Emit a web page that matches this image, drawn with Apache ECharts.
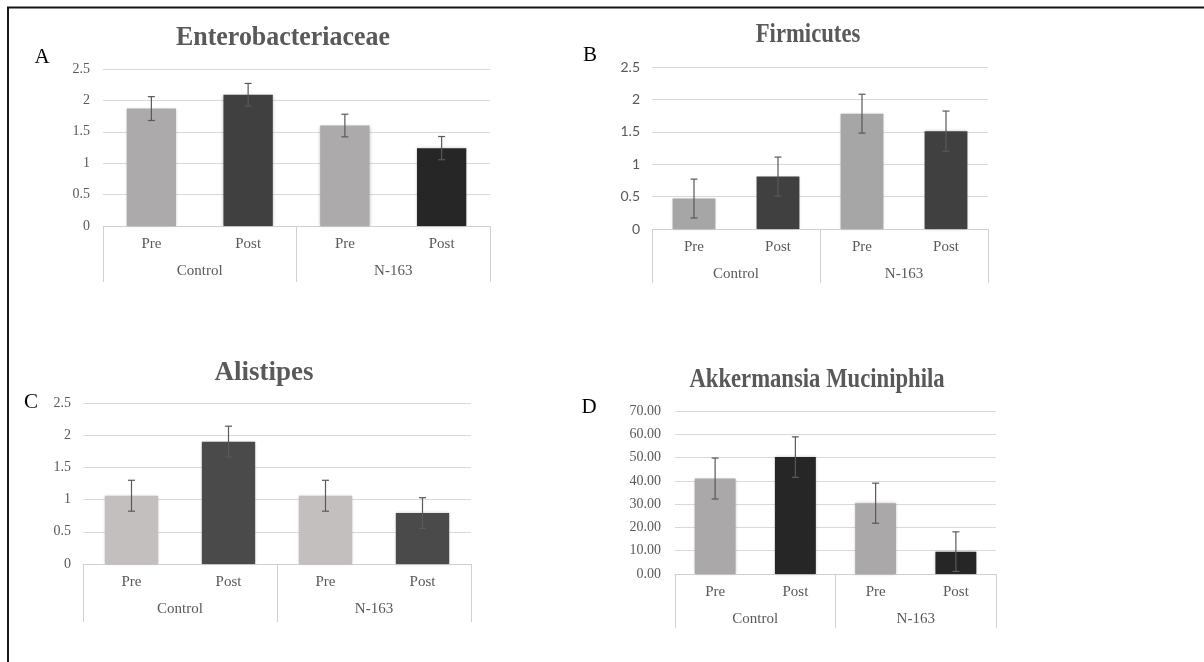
<!DOCTYPE html>
<html>
<head>
<meta charset="utf-8">
<script src="https://cdn.jsdelivr.net/npm/echarts@6/dist/echarts.min.js"></script>
<style>
html,body{margin:0;padding:0;background:#fff;}
#c{width:1204px;height:662px;}
</style>
</head>
<body>
<div id="c"></div>
<script>
// ---- data ----
const categories = ['Pre', 'Post', 'Pre', 'Post'];
const groups = ['Control', 'N-163'];

const entTitle = 'Enterobacteriaceae';
const entMean = [1.87, 2.09, 1.60, 1.24];
const entErr = [0.19, 0.18, 0.18, 0.185];

const firTitle = 'Firmicutes';
const firMean = [0.47, 0.81, 1.78, 1.51];
const firErr = [0.30, 0.30, 0.30, 0.31];

const aliTitle = 'Alistipes';
const aliMean = [1.06, 1.90, 1.06, 0.79];
const aliErr = [0.24, 0.24, 0.24, 0.24];

const akkTitle = 'Akkermansia Muciniphila';
const akkMean = [41.0, 50.2, 30.4, 9.6];
const akkErr = [8.8, 8.7, 8.6, 8.5];

const ratioTicks = [0, 0.5, 1, 1.5, 2, 2.5];
const akkTicks = [0, 10, 20, 30, 40, 50, 60, 70];

// ---- layout / style ----
const SERIF = '"Liberation Serif", "DejaVu Serif", serif';
const panels = [
  {title: entTitle, letter: 'A', mean: entMean, err: entErr, ticks: ratioTicks,
   grid: {left: 103, top: 69, width: 387, height: 157}, tickLen: 56, barWidth: '51%',
   colors: ['#acaaaa', '#404040', '#acaaaa', '#262626'],
   titlePos: [283, 38], titleScale: 0.96, letterPos: [42, 57], yFont: SERIF, yMargin: 13, dec: 0, xFont: 15},
  {title: firTitle, letter: 'B', mean: firMean, err: firErr, ticks: ratioTicks,
   grid: {left: 652, top: 67, width: 336, height: 162}, tickLen: 54, barWidth: '51%',
   colors: ['#a6a6a6', '#404040', '#a6a6a6', '#404040'],
   titlePos: [808, 35], titleScale: 0.84, letterPos: [590, 55], yFont: 'Lato, "Open Sans", sans-serif', yMargin: 12, dec: 0, xFont: 15},
  {title: aliTitle, letter: 'C', mean: aliMean, err: aliErr, ticks: ratioTicks,
   grid: {left: 83, top: 403, width: 388, height: 161}, tickLen: 58, barWidth: '55%',
   colors: ['#c3bfbf', '#4a4a4a', '#c3bfbf', '#4a4a4a'],
   titlePos: [264, 373], titleScale: 1, letterPos: [31, 402], yFont: SERIF, yMargin: 12, dec: 0, xFont: 15},
  {title: akkTitle, letter: 'D', mean: akkMean, err: akkErr, ticks: akkTicks,
   grid: {left: 675, top: 411, width: 321, height: 163}, tickLen: 54, barWidth: '51%',
   colors: ['#aaa8a8', '#262626', '#aaa8a8', '#262626'],
   titlePos: [817, 380], titleScale: 0.84, letterPos: [589, 407], yFont: SERIF, yMargin: 14, dec: 2, xFont: 15}
];

const grid = [], xAxis = [], yAxis = [], series = [], graphic = [];

graphic.push({type: 'line', shape: {x1: 7, y1: 7.5, x2: 1204, y2: 7.5}, style: {stroke: '#151515', lineWidth: 2}, silent: true});
graphic.push({type: 'line', shape: {x1: 8, y1: 7, x2: 8, y2: 662}, style: {stroke: '#151515', lineWidth: 2}, silent: true});

panels.forEach((p, i) => {
  grid.push(Object.assign({containLabel: false}, p.grid));
  const tmin = p.ticks[0], tmax = p.ticks[p.ticks.length - 1];
  const interval = p.ticks[1] - p.ticks[0];
  yAxis.push({
    type: 'value', gridIndex: i, min: tmin, max: tmax, interval: interval,
    axisLine: {show: false}, axisTick: {show: false},
    axisLabel: {color: '#595959', fontFamily: p.yFont, fontSize: 14, margin: p.yMargin,
      formatter: v => p.dec ? v.toFixed(p.dec) : String(v)},
    splitLine: {lineStyle: {color: '#d9d9d9', width: 1}}
  });
  xAxis.push({
    type: 'category', gridIndex: i, data: categories, position: 'bottom',
    axisLine: {show: true, lineStyle: {color: '#d0d0d0', width: 1}},
    axisTick: {show: false},
    axisLabel: {color: '#595959', fontFamily: SERIF, fontSize: p.xFont, margin: 11, interval: 0}
  });
  xAxis.push({
    type: 'category', gridIndex: i, data: groups, position: 'bottom',
    axisLine: {show: false},
    axisTick: {show: true, length: p.tickLen, lineStyle: {color: '#d0d0d0', width: 1}},
    axisLabel: {color: '#595959', fontFamily: SERIF, fontSize: p.xFont, margin: 38, interval: 0}
  });
  series.push({
    type: 'bar', xAxisIndex: 2 * i, yAxisIndex: i, barWidth: p.barWidth,
    data: p.mean.map((v, k) => ({value: v, itemStyle: {color: p.colors[k]}})),
    itemStyle: {shadowBlur: 3, shadowColor: 'rgba(0,0,0,0.25)'},
    silent: true, z: 2
  });
  series.push({
    type: 'custom', xAxisIndex: 2 * i, yAxisIndex: i, z: 5, silent: true,
    data: p.mean.map((v, k) => [k, v, p.err[k]]),
    encode: {x: 0, y: 1},
    renderItem: (params, api) => {
      const x = api.value(0), m = api.value(1), e = api.value(2);
      const t = api.coord([x, m + e]);
      const b = api.coord([x, m - e]);
      const hw = 3.5;
      const st = {stroke: '#595959', lineWidth: 1.2};
      return {type: 'group', children: [
        {type: 'line', shape: {x1: t[0], y1: t[1], x2: b[0], y2: b[1]}, style: st},
        {type: 'line', shape: {x1: t[0] - hw, y1: t[1], x2: t[0] + hw, y2: t[1]}, style: st},
        {type: 'line', shape: {x1: b[0] - hw, y1: b[1], x2: b[0] + hw, y2: b[1]}, style: st}
      ]};
    }
  });
  graphic.push({type: 'text', x: p.titlePos[0], y: p.titlePos[1], scaleX: p.titleScale, silent: true,
    style: {text: p.title, fill: '#595959', font: 'bold 27px ' + SERIF, textAlign: 'center', textVerticalAlign: 'middle'}});
  graphic.push({type: 'text', x: p.letterPos[0], y: p.letterPos[1], silent: true,
    style: {text: p.letter, fill: '#000', font: '21px ' + SERIF, textAlign: 'center', textVerticalAlign: 'middle'}});
});

const chart = echarts.init(document.getElementById('c'), null, {renderer: 'canvas'});
chart.setOption({
  backgroundColor: '#ffffff',
  animation: false,
  grid, xAxis, yAxis, series, graphic
});
</script>
</body>
</html>
